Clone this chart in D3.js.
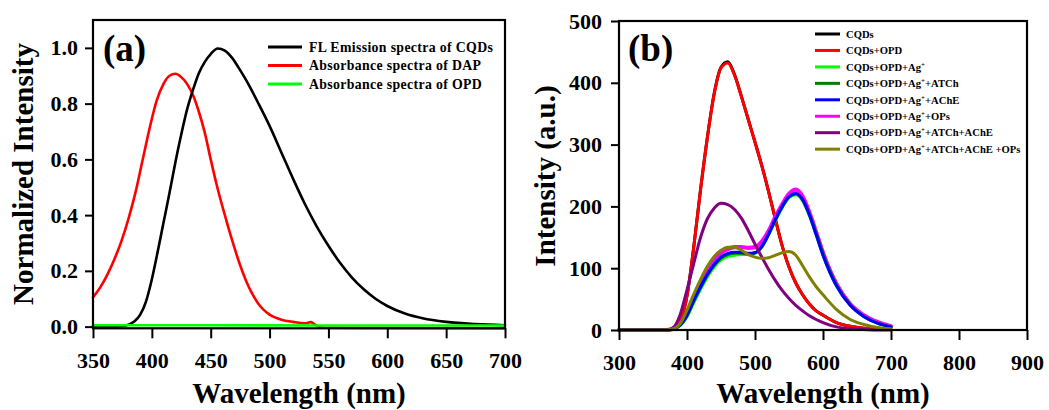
<!DOCTYPE html>
<html>
<head>
<meta charset="utf-8">
<script src="https://cdn.jsdelivr.net/npm/d3@7"></script>
<style>
  body { margin: 0; background: #fff; }
  svg { display: block; font-family: "Liberation Serif", "Times New Roman", serif; font-weight: bold; }
  .tick text { font-size: 22px; font-family: "Liberation Serif", serif; font-weight: bold; fill: #000; }
  .tick line { stroke: #000; stroke-width: 2px; }
  .spec { fill: none; stroke-linejoin: round; stroke-linecap: round; }
</style>
</head>
<body>
<svg width="1049" height="410"></svg>
<script>
// ---- panel (a) data ----
var flWl  = [350, 370, 378, 385, 390, 395, 400, 405, 410, 415, 420, 425, 430, 435, 440, 445, 450, 456, 462, 468, 475, 482, 490, 500, 510, 520, 530, 540, 550, 560, 570, 580, 590, 600, 615, 630, 650, 675, 700];
var flVal = [0, 0, 0.004, 0.018, 0.042, 0.09, 0.17, 0.27, 0.375, 0.48, 0.59, 0.69, 0.78, 0.85, 0.91, 0.95, 0.978, 0.998, 0.99, 0.965, 0.92, 0.87, 0.805, 0.72, 0.625, 0.53, 0.44, 0.36, 0.29, 0.228, 0.176, 0.134, 0.1, 0.074, 0.047, 0.03, 0.017, 0.009, 0.005];

var dapWl  = [350, 356, 362, 368, 374, 380, 386, 392, 398, 404, 410, 415, 420, 425, 430, 435, 440, 445, 450, 455, 460, 465, 470, 475, 480, 485, 490, 495, 500, 510, 520, 530, 535, 538, 541, 545, 600, 700];
var dapVal = [0.105, 0.14, 0.185, 0.24, 0.305, 0.385, 0.48, 0.595, 0.71, 0.81, 0.872, 0.9, 0.907, 0.895, 0.87, 0.83, 0.77, 0.695, 0.6, 0.51, 0.43, 0.355, 0.285, 0.22, 0.165, 0.12, 0.085, 0.06, 0.043, 0.025, 0.017, 0.012, 0.016, 0.009, 0.002, -0.004, -0.005, -0.006];

var opdWl  = [350, 450, 550, 650, 700];
var opdVal = [0.005, 0.005, 0.004, 0.004, 0.004];

var aNames  = ["FL Emission spectra of CQDs", "Absorbance spectra of DAP", "Absorbance spectra of OPD"];
var aColors = ["#000000", "#ff0000", "#00ff00"];
var aTicksX = [350, 400, 450, 500, 550, 600, 650, 700];
var aTicksY = [0, 0.2, 0.4, 0.6, 0.8, 1.0];

// ---- panel (b) data ----
var bWl = [300, 370, 380, 390, 400, 410, 420, 430, 440, 450, 460, 470, 480, 490, 500, 510, 520, 530, 540, 550, 560, 570, 580, 590, 600, 620, 640, 660, 680, 700];
var cqds       = [0, 0, 3, 15, 55, 135, 228, 312, 383, 425, 434, 413, 378, 341, 304, 266, 224, 179, 136, 102, 76, 57, 42, 31, 24, 12, 6, 3, 2, 1];
var cqdsOpd    = [0, 0, 3, 15, 55, 135, 228, 312, 382, 424, 432, 412, 378, 341, 304, 266, 224, 179, 136, 102, 76, 57, 42, 31, 24, 12, 6, 3, 2, 1];
var withAg     = [0, 0, 2, 7, 21, 44, 66, 86, 102, 113, 119, 121, 122, 122, 124, 134, 154, 177, 198, 214, 219, 209, 185, 154, 121, 71, 40, 22, 11, 5];
var withAtch   = [0, 0, 2, 8, 23, 47, 69, 89, 105, 116, 122, 124, 124, 123, 125, 135, 155, 178, 199, 215, 220, 211, 188, 157, 124, 73, 41, 22, 11, 5];
var withAche   = [0, 0, 2, 8, 24, 48, 70, 90, 106, 118, 124, 126, 126, 124, 125, 135, 155, 179, 200, 216, 221, 211, 186, 154, 121, 71, 40, 22, 11, 5];
var withOps    = [0, 0, 2, 10, 28, 54, 76, 95, 113, 125, 131, 134, 134, 133, 134, 143, 160, 183, 203, 220, 227, 216, 190, 158, 125, 74, 42, 24, 13, 6];
var atchAche   = [0, 0, 4, 25, 65, 108, 150, 180, 197, 205, 203, 195, 181, 161, 139, 118, 98, 80, 64, 51, 40, 31, 23, 17, 12, 5, 2, 1, 0, 0];
var atchAcheOp = [0, 0, 2, 10, 32, 58, 82, 103, 119, 129, 134, 134, 129, 122, 118, 116, 117, 121, 125, 127, 121, 104, 86, 70, 57, 33, 17, 9, 4, 2];

var bNames  = ["CQDs", "CQDs+OPD", "CQDs+OPD+Ag+", "CQDs+OPD+Ag++ATCh", "CQDs+OPD+Ag++AChE", "CQDs+OPD+Ag++OPs", "CQDs+OPD+Ag++ATCh+AChE", "CQDs+OPD+Ag++ATCh+AChE +OPs"];
var bColors = ["#000000", "#ff0000", "#00ff00", "#007f00", "#0000ff", "#ff00ff", "#800080", "#808000"];
var bSeries = [cqds, cqdsOpd, withAg, withAtch, withAche, withOps, atchAche, atchAcheOp];
var bTicksX = [300, 400, 500, 600, 700, 800, 900];
var bTicksY = [0, 100, 200, 300, 400, 500];

var svg = d3.select("svg");

function pts(wl, val) {
  return wl.map(function(w, i) { return [w, val[i]]; });
}

function frame(x, y, ticksX, ticksY, fmtY, padY) {
  var g = svg.append("g");
  var x0 = x.range()[0], x1 = x.range()[1],
      y0 = y.range()[0], y1 = y.range()[1];

  g.append("g")
      .attr("transform", "translate(0," + y0 + ")")
      .call(d3.axisBottom(x).tickValues(ticksX).tickSize(10).tickPadding(14).tickFormat(d3.format("d")))
      .call(function(a) { a.select(".domain").remove(); });

  g.append("g")
      .attr("transform", "translate(" + x0 + ",0)")
      .call(d3.axisLeft(y).tickValues(ticksY).tickSize(8).tickPadding(padY).tickFormat(fmtY))
      .call(function(a) { a.select(".domain").remove(); });

  g.append("rect")
      .attr("x", x0).attr("y", y1)
      .attr("width", x1 - x0).attr("height", y0 - y1)
      .attr("fill", "none").attr("stroke", "#000").attr("stroke-width", 2.2);
  return g;
}

// ---------------- panel (a) ----------------
var xa = d3.scaleLinear().domain([350, 700]).range([93, 505]);
var ya = d3.scaleLinear().domain([-0.006, 1.1]).range([328.3, 20]);

var lineA = d3.line()
    .x(function(d) { return xa(d[0]); })
    .y(function(d) { return ya(d[1]); })
    .curve(d3.curveMonotoneX);

// red first, black over it, green on top
var aSeries = [
  {data: pts(dapWl, dapVal), color: aColors[1]},
  {data: pts(flWl, flVal), color: aColors[0]},
  {data: pts(opdWl, opdVal), color: aColors[2]}
];

aSeries.forEach(function(s) {
  svg.append("path")
      .datum(s.data)
      .attr("class", "spec")
      .attr("stroke", s.color)
      .attr("stroke-width", 2.6)
      .attr("d", lineA);
});

frame(xa, ya, aTicksX, aTicksY, d3.format(".1f"), 7);

svg.append("text")
    .attr("x", 103).attr("y", 61)
    .attr("font-size", 37)
    .text("(a)");

var legA = svg.append("g").selectAll("g")
    .data(aNames)
    .enter().append("g")
    .attr("transform", function(d, i) { return "translate(0," + (47 + i * 18.5) + ")"; });

legA.append("line")
    .attr("x1", 268).attr("x2", 302)
    .attr("stroke", function(d, i) { return aColors[i]; })
    .attr("stroke-width", 3);

legA.append("text")
    .attr("x", 309).attr("dy", "0.35em")
    .attr("font-size", 13.8)
    .attr("letter-spacing", 0.35)
    .text(function(d) { return d; });

svg.append("text")
    .attr("x", (93 + 505) / 2).attr("y", 403)
    .attr("text-anchor", "middle")
    .attr("font-size", 29)
    .text("Wavelength (nm)");

svg.append("text")
    .attr("transform", "translate(33,174) rotate(-90)")
    .attr("text-anchor", "middle")
    .attr("font-size", 29)
    .text("Normalized Intensity");

// ---------------- panel (b) ----------------
var xb = d3.scaleLinear().domain([300, 900]).range([619, 1027]);
var yb = d3.scaleLinear().domain([0, 500]).range([330, 21]);

var lineB = d3.line()
    .x(function(d) { return xb(d[0]); })
    .y(function(d) { return yb(d[1]); })
    .curve(d3.curveMonotoneX);

// magenta sits under the blue/green group, drawn wider
var bOrder = [0, 1, 5, 2, 3, 4, 6, 7];
bOrder.forEach(function(i) {
  svg.append("path")
      .datum(pts(bWl, bSeries[i]))
      .attr("class", "spec")
      .attr("stroke", bColors[i])
      .attr("stroke-width", i === 5 ? 4.2 : 3)
      .attr("d", lineB);
});

frame(xb, yb, bTicksX, bTicksY, d3.format("d"), 9);

svg.append("text")
    .attr("x", 628).attr("y", 61)
    .attr("font-size", 37)
    .text("(b)");

var legB = svg.append("g").selectAll("g")
    .data(bNames)
    .enter().append("g")
    .attr("transform", function(d, i) { return "translate(0," + (34 + i * 16.45) + ")"; });

legB.append("line")
    .attr("x1", 815).attr("x2", 840)
    .attr("stroke", function(d, i) { return bColors[i]; })
    .attr("stroke-width", 3);

legB.append("text")
    .attr("x", 846).attr("dy", "0.35em")
    .attr("font-size", 10.6)
    .each(function(d) {
      var t = d3.select(this);
      var k = d.indexOf("Ag+");
      if (k < 0) { t.text(d); return; }
      t.append("tspan").text(d.slice(0, k + 2));
      t.append("tspan").attr("font-size", 7).attr("dy", -4).text("+");
      t.append("tspan").attr("dy", 4).text(d.slice(k + 3));
    });

svg.append("text")
    .attr("x", (619 + 1027) / 2).attr("y", 403)
    .attr("text-anchor", "middle")
    .attr("font-size", 29)
    .text("Wavelength (nm)");

svg.append("text")
    .attr("transform", "translate(555,176) rotate(-90)")
    .attr("text-anchor", "middle")
    .attr("font-size", 29)
    .text("Intensity (a.u.)");
</script>
</body>
</html>
